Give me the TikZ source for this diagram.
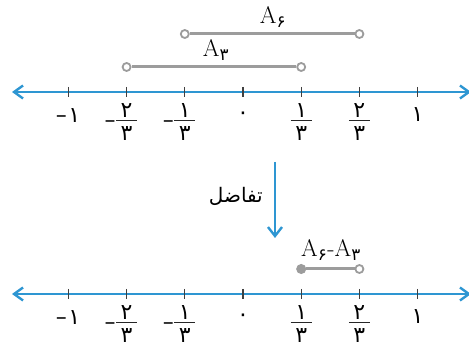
\documentclass[tikz,border=0pt]{standalone}
\usepackage{amsmath}
\usepackage{fontspec}
\usetikzlibrary{arrows.meta}
\TeXXeTstate=1
\newfontfamily\arabicfont[Script=Arabic]{DejaVu Sans}
\definecolor{axisblue}{HTML}{2E96D2}
\definecolor{setgray}{HTML}{9C9C9C}
\newcommand\fadig[1]{\text{\arabicfont #1}}

\begin{document}
\begin{tikzpicture}[x=1pt, y=-1pt,
  axisline/.style={axisblue, line width=2.4pt,
    {Straight Barb[length=9pt,width=13pt]}-{Straight Barb[length=9pt,width=13pt]}},
  downarrow/.style={axisblue, line width=2.4pt, -{Straight Barb[length=9pt,width=14pt]}},
  tickmark/.style={black!75, line width=1.3pt},
  fracbar/.style={black!85, line width=1.1pt},
  setline/.style={setgray, line width=3pt},
  openend/.style={circle, draw=setgray, fill=white, line width=1.8pt, inner sep=0pt, minimum size=8pt},
  closedend/.style={circle, draw=setgray, fill=setgray, line width=1pt, inner sep=0pt, minimum size=9pt},
  digit/.style={font=\arabicfont\fontsize{22}{26}\selectfont, inner sep=0pt, anchor=base},
  negdash/.style={font=\arabicfont\fontsize{22}{24}\selectfont, inner sep=0pt},
  setlabel/.style={font=\fontsize{24}{28}\selectfont, inner sep=0pt}]

\useasboundingbox (0,0) rectangle (469,344);

% two number lines, upper at y=92, lower at y=294
\foreach \ax/\y in {u/92, d/294} {
  \coordinate (\ax-l) at (12,\y);
  \coordinate (\ax-r) at (471,\y);
  \draw[axisline] (\ax-l) -- (\ax-r);
  \foreach \k [count=\i] in {-3,...,3} {
    \coordinate (\ax\i) at ({243+58.2*\k},\y);
    \draw[tickmark] (\ax\i) ++(0,-5) -- ++(0,10);
  }
  % fractions
  \foreach \k/\n in {-2/۲, -1/۱, 1/۱, 2/۲} {
    \pgfmathsetmacro\xx{243+58.2*\k}
    \node[digit] (\ax-num\k) at (\xx,\y+25.5) {\n};
    \node[digit] (\ax-den\k) at (\xx,\y+49) {۳};
    \draw[fracbar] (\xx-10.5,\y+28.5) -- (\xx+10.5,\y+28.5);
  }
  \foreach \k in {-2,-1}
    \node[negdash] (\ax-neg\k) at ({243+58.2*\k-16.5},\y+32.5) {–};
  % whole numbers
  \node[negdash] (\ax-neg3) at ({243-3*58.2-7},\y+27) {–};
  \node[digit] (\ax-m1) at ({243-3*58.2+6},\y+31) {۱};
  \node[digit] (\ax-z) at (243,\y+28) {۰};
  \node[digit] (\ax-p1) at ({243+3*58.2},\y+30) {۱};
}

% sets above the upper line
\node[openend] (a6-l) at ({243-58.2},34) {};
\node[openend] (a6-r) at ({243+2*58.2},34) {};
\draw[setline] (a6-l) -- (a6-r);
\node[setlabel] (a6-name) at (273,17) {A$_{\fadig{۶}}$};

\node[openend] (a3-l) at ({243-2*58.2},67) {};
\node[openend] (a3-r) at ({243+58.2},67) {};
\draw[setline] (a3-l) -- (a3-r);
\node[setlabel] (a3-name) at (216,50) {A$_{\fadig{۳}}$};

% difference
\coordinate (diff-top) at (275,162);
\coordinate (diff-bot) at (275,238);
\draw[downarrow] (diff-top) -- (diff-bot);
\node[font=\arabicfont\fontsize{20}{24}\selectfont, anchor=east, inner sep=0pt] (diff-name) at (263,196) {\beginR تفاضل\endR};

\node[closedend] (res-l) at ({243+58.2},269) {};
\node[openend] (res-r) at ({243+2*58.2},269) {};
\draw[setline] (res-l) -- (res-r);
\node[setlabel] (res-name) at (331,250) {A$_{\fadig{۶}}$-A$_{\fadig{۳}}$};

\end{tikzpicture}
\end{document}
